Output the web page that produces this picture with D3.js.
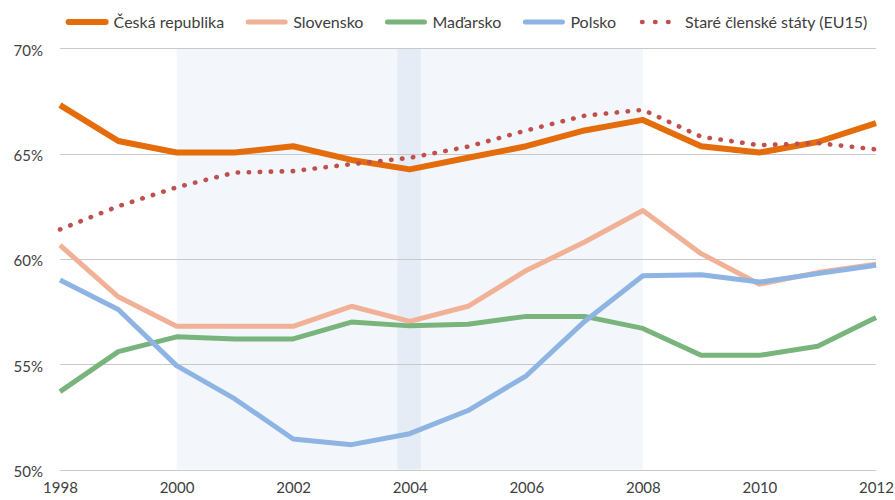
<!DOCTYPE html>
<html>
<head>
<meta charset="utf-8">
<script src="https://cdn.jsdelivr.net/npm/d3@7"></script>
<style>
  body { margin: 0; background: #fff; }
  svg text { font-family: Lato, "Open Sans", sans-serif; fill: #404040; }
</style>
</head>
<body>
<div id="chart"></div>
<script>
const years = [1998, 1999, 2000, 2001, 2002, 2003, 2004, 2005, 2006, 2007, 2008, 2009, 2010, 2011, 2012];

const cesko     = [67.3, 65.6, 65.05, 65.05, 65.35, 64.7, 64.25, 64.8, 65.35, 66.1, 66.6, 65.35, 65.05, 65.55, 66.45];
const slovensko = [60.65, 58.2, 56.8, 56.8, 56.8, 57.75, 57.03, 57.75, 59.45, 60.8, 62.3, 60.25, 58.8, 59.35, 59.75];
const madarsko  = [53.7, 55.6, 56.3, 56.2, 56.2, 57.0, 56.82, 56.9, 57.27, 57.27, 56.7, 55.42, 55.42, 55.85, 57.22];
const polsko    = [59.0, 57.6, 54.93, 53.35, 51.45, 51.18, 51.7, 52.8, 54.45, 57.03, 59.2, 59.25, 58.9, 59.3, 59.7];
const eu15      = [61.4, 62.5, 63.4, 64.1, 64.17, 64.5, 64.8, 65.33, 66.1, 66.8, 67.08, 65.8, 65.4, 65.5, 65.2];

const yTicks = [50, 55, 60, 65, 70];
const xTicks = [1998, 2000, 2002, 2004, 2006, 2008, 2010, 2012];

// shaded periods behind the lines
const periods = [
    {from: 2000, to: 2008, color: "#f3f7fb"},
    {from: 2003.79, to: 2004.19, color: "#e5ecf5"}
];

const series = [
    {name: "Česká republika", values: cesko, color: "#e46c0a", width: 6},
    {name: "Slovensko", values: slovensko, color: "#f1b197", width: 5},
    {name: "Maďarsko", values: madarsko, color: "#79b47c", width: 5},
    {name: "Polsko", values: polsko, color: "#8db4e3", width: 5},
    {name: "Staré členské státy (EU15)", values: eu15, color: "#c0504d", width: 4.6, dotted: true}
];

const width = 895, height = 500;

const x = d3.scaleLinear().domain([1998, 2012]).range([60, 876]);
const y = d3.scaleLinear().domain([50, 70]).range([469.5, 48.3]);

const svg = d3.select("#chart").append("svg")
    .attr("width", width)
    .attr("height", height);

svg.selectAll(".period")
    .data(periods)
    .enter().append("rect")
    .attr("class", "period")
    .attr("x", d => x(d.from))
    .attr("width", d => x(d.to) - x(d.from))
    .attr("y", y(70))
    .attr("height", y(50) - y(70))
    .attr("fill", d => d.color);

// gridlines
svg.selectAll(".grid")
    .data(yTicks)
    .enter().append("line")
    .attr("class", "grid")
    .attr("x1", x(1998))
    .attr("x2", x(2012))
    .attr("y1", d => Math.round(y(d)) + 0.5)
    .attr("y2", d => Math.round(y(d)) + 0.5)
    .attr("stroke", "#c9c9c9")
    .attr("stroke-width", 1.2);

const yAxis = d3.axisLeft(y)
    .tickValues(yTicks)
    .tickSize(0)
    .tickPadding(0)
    .tickFormat(d => d + "%");

svg.append("g")
    .attr("transform", "translate(43,2)")
    .call(yAxis)
    .call(g => g.select(".domain").remove())
    .selectAll("text")
    .style("font-size", "15px");

const xAxis = d3.axisBottom(x)
    .tickValues(xTicks)
    .tickSize(0)
    .tickPadding(0)
    .tickFormat(d3.format("d"));

svg.append("g")
    .attr("transform", "translate(0," + (y(50) + 13) + ")")
    .call(xAxis)
    .call(g => g.select(".domain").remove())
    .selectAll("text")
    .style("font-size", "15px");

const line = d3.line()
    .x((d, i) => x(years[i]))
    .y(d => y(d));

svg.selectAll(".series")
    .data(series)
    .enter().append("path")
    .attr("class", "series")
    .attr("d", d => line(d.values))
    .attr("fill", "none")
    .attr("stroke", d => d.color)
    .attr("stroke-width", d => d.width)
    .attr("stroke-linejoin", "round")
    .attr("stroke-linecap", d => d.dotted ? "round" : "butt")
    .attr("stroke-dasharray", d => d.dotted ? "0.4 10.6" : null);

// legend
const legend = svg.append("g").attr("class", "legend");
const items = legend.selectAll(".item")
    .data(series)
    .enter().append("g")
    .attr("class", "item");

items.append("text")
    .attr("x", 45)
    .attr("y", 22)
    .attr("dy", "0.35em")
    .style("font-size", "16px")
    .text(d => d.name);

items.append("line")
    .attr("x1", d => d.dotted ? 2 : 0)
    .attr("x2", 37)
    .attr("y1", 22)
    .attr("y2", 22)
    .attr("stroke", d => d.color)
    .attr("stroke-width", d => d.width)
    .attr("stroke-linecap", "round")
    .attr("stroke-dasharray", d => d.dotted ? "0.4 12.6" : null);

let widths = [];
items.each(function () {
    widths.push(45 + d3.select(this).select("text").node().getComputedTextLength());
});
const gap = 24;
const total = d3.sum(widths) + gap * (widths.length - 1);
let pos = (x(1998) + x(2012)) / 2 - total / 2;
items.attr("transform", (d, i) => {
    const t = "translate(" + pos + ",0)";
    pos += widths[i] + gap;
    return t;
});
</script>
</body>
</html>
